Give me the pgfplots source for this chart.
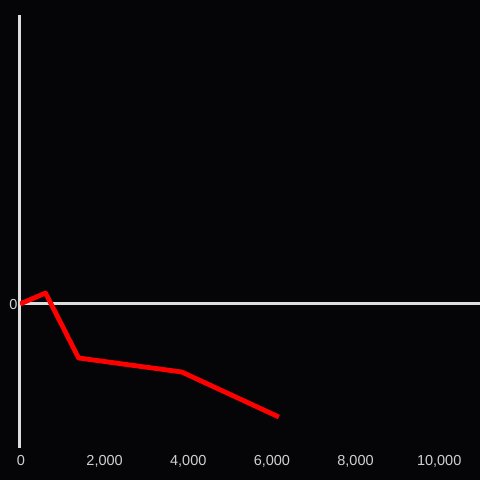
\documentclass[border=0pt]{standalone}
\usepackage{fontspec}
\setmainfont{Liberation Sans}
\usepackage{pgfplots}
\pgfplotsset{compat=1.18}
\definecolor{bg}{HTML}{050407}
\definecolor{axisgray}{HTML}{DDDDDD}
\definecolor{ticklbl}{HTML}{D0D0D0}
\begin{document}
\begin{tikzpicture}
\fill[bg] (-20pt,-32pt) rectangle (460pt,448pt);
\useasboundingbox (-20pt,-32pt) rectangle (460pt,448pt);
\begin{axis}[
  scale only axis, width=460pt, height=433pt,
  xmin=0, xmax=11000, ymin=-144, ymax=289,
  axis x line*=bottom, axis y line*=left,
  x axis line style={draw=none},
  y axis line style={draw=axisgray, line width=3pt, -},
  xtick={0,2000,4000,6000,8000,10000},
  scaled x ticks=false,
  ytick={0}, major tick length=0pt,
  ymajorgrids, major grid style={draw=axisgray, line width=3pt},
  tick label style={font=\fontsize{14.5}{16}\selectfont, text=ticklbl},
  /pgf/number format/assume math mode=true,
  /pgf/number format/1000 sep={,},
  xticklabel style={yshift=-4pt, xshift=1pt},
  yticklabel style={xshift=1pt, yshift=-1pt},
]
\addplot[draw=red, line width=4.8pt, line join=round] coordinates {
(0,0)(611,11)(1401,-54)(3868,-68)(6191,-113)};
\end{axis}
\end{tikzpicture}
\end{document}
